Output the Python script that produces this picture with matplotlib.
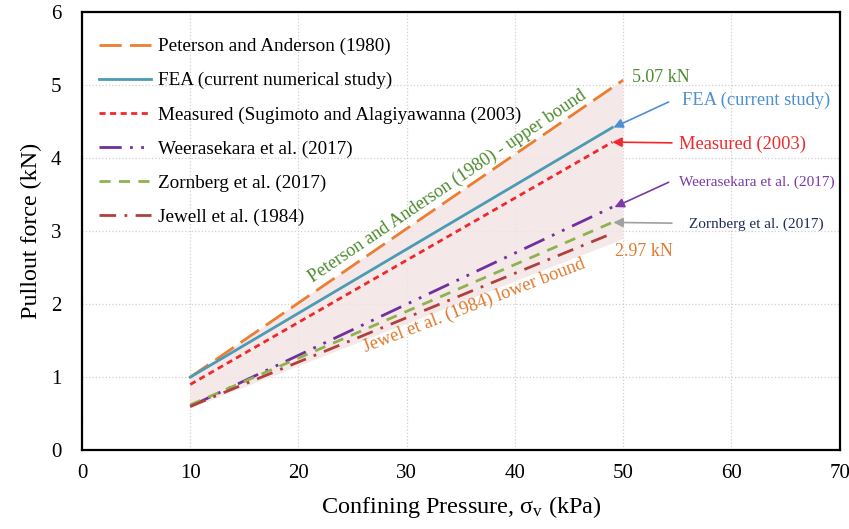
import numpy as np
import matplotlib.pyplot as plt
from matplotlib.patches import Polygon

plt.rcParams['font.family'] = ['Liberation Serif', 'DejaVu Serif']

# confining pressure (kPa)
pressure = [10, 50]
pressure_short = [10, 49]

# pullout force (kN)
peterson = [1.00, 5.07]
fea = [1.00, 4.42]
measured = [0.90, 4.22]
weerasekara = [0.60, 3.33]
zornberg = [0.62, 3.12]
jewell = [0.60, 2.97]

labels = ['Peterson and Anderson (1980)', 'FEA (current numerical study)',
          'Measured (Sugimoto and Alagiyawanna (2003)', 'Weerasekara et al. (2017)',
          'Zornberg et al. (2017)', 'Jewell et al. (1984)']

fig = plt.figure(figsize=(8.49, 5.29), dpi=100)
ax = fig.add_axes([0.0966, 0.149, 0.8924, 0.828])

# band between upper and lower bound
band = Polygon([[pressure[0], peterson[0]], [pressure[1], peterson[1]],
                [pressure[1], jewell[1] - 0.08], [pressure[0], jewell[0] - 0.03]],
               closed=True, facecolor='#f3e4e4', edgecolor='none', alpha=0.85, zorder=1)
ax.add_patch(band)

ax.plot(pressure, peterson, color='#ed7d31', lw=2, dashes=(8, 3), label=labels[0], zorder=3)
ax.plot(pressure_short, fea, color='#4a9bb3', lw=2, label=labels[1], zorder=3)
ax.plot(pressure_short, measured, color='#f0282c', lw=2, dashes=(2.2, 1.6), label=labels[2], zorder=3)
ax.plot(pressure_short, weerasekara, color='#7030a0', lw=2, dashes=(8, 3, 1, 3, 1, 3), label=labels[3], zorder=3)
ax.plot(pressure_short, zornberg, color='#8fb24f', lw=2, dashes=(4, 3), label=labels[4], zorder=3)
ax.plot(pressure_short, jewell, color='#b0403d', lw=2, dashes=(6, 3, 1, 3), label=labels[5], zorder=3)

ax.set_xlim(0, 70)
ax.set_ylim(0, 6)
ax.set_xticks(range(0, 71, 10))
ax.set_yticks(range(0, 7))
ax.tick_params(labelsize=15, length=0)
ax.tick_params(axis='x', pad=10)
ax.tick_params(axis='y', pad=15)
ax.grid(True, color='#d0d0d0', linestyle=':', lw=0.9)
ax.set_axisbelow(True)
for s in ax.spines.values():
    s.set_linewidth(1.6)
    s.set_color('black')

ax.set_xlabel(r'Confining Pressure, $\mathregular{\sigma_v}$ (kPa)', fontsize=17.5, labelpad=8)
ax.set_ylabel('Pullout force (kN)', fontsize=17.3, labelpad=6)

ax.legend(loc='upper left', frameon=False, fontsize=13.8, handlelength=2.72,
          handletextpad=0.36, labelspacing=0.87, bbox_to_anchor=(0.005, 0.972),
          borderaxespad=0.3)

# bound labels
ax.text(33.8, 3.62, 'Peterson and Anderson (1980) - upper bound', color='#4e8a2e',
        fontsize=13.2, rotation=34, ha='center', va='center')
ax.text(36.2, 1.98, 'Jewel et al. (1984) lower bound', color='#e07a2e',
        fontsize=13.4, rotation=21, ha='center', va='center')
ax.text(50.8, 5.1, '5.07 kN', color='#4e8a2e', fontsize=13, ha='left', va='center')
ax.text(49.2, 2.72, '2.97 kN', color='#e07a2e', fontsize=13, ha='left', va='center')

# arrows pointing to curve ends, labels to the right
arrow_specs = [
    ((49.1, 4.42), (54.2, 4.77), '#4d8fcf'),
    ((49.0, 4.22), (54.5, 4.21), '#f0282c'),
    ((49.2, 3.33), (54.2, 3.67), '#7a3aa8'),
    ((49.1, 3.12), (54.5, 3.11), '#a0a0a0'),
]
for head, tail, c in arrow_specs:
    ax.annotate('', xy=head, xytext=tail,
                arrowprops=dict(arrowstyle='-|>', color=c, lw=1.2, shrinkA=0, shrinkB=0,
                                mutation_scale=14))

ax.text(55.4, 4.79, 'FEA (current study)', color='#4d8fcf', fontsize=13.3, ha='left', va='center')
ax.text(55.2, 4.19, 'Measured (2003)', color='#f0282c', fontsize=13.3, ha='left', va='center')
ax.text(55.2, 3.67, 'Weerasekara et al. (2017)', color='#7a3aa8', fontsize=11, ha='left', va='center')
ax.text(56.1, 3.10, 'Zornberg et al. (2017)', color='#1f2a5a', fontsize=11, ha='left', va='center')

fig.savefig('out.png', dpi=100)
